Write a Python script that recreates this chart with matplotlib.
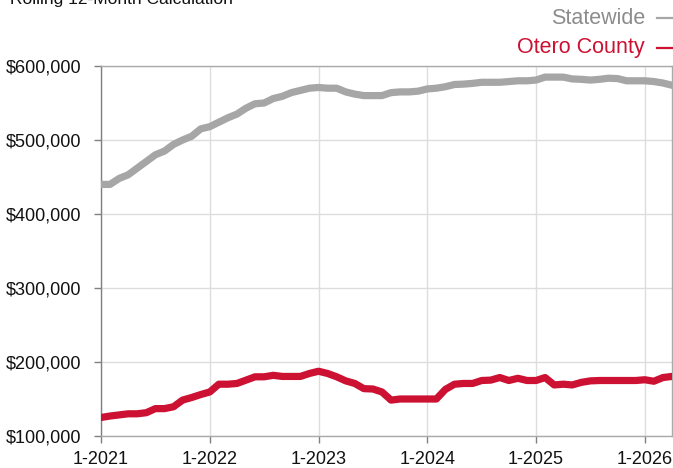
import matplotlib
matplotlib.use("Agg")
import matplotlib.pyplot as plt

plt.rcParams['font.family'] = ['Liberation Sans', 'DejaVu Sans']

months = [f"{m}-{y}" for y in range(2021, 2027) for m in range(1, 13)][:64]

statewide = [440000, 440000, 448000, 453000, 462000, 471000, 480000, 485000, 494000, 500000,
             505000, 515000, 518000, 524000, 530000, 535000, 543000, 549000, 550000, 556000,
             559000, 564000, 567000, 570000, 571000, 570000, 570000, 565000, 562000, 560000,
             560000, 560000, 564000, 565000, 565000, 566000, 569000, 570000, 572000, 575000,
             575500, 576500, 578000, 578000, 578000, 579000, 580000, 580000, 581000, 585000,
             585000, 585000, 582500, 582000, 581000, 582000, 583500, 583000, 580000, 580000,
             580000, 579000, 577000, 574000]

otero = [125000, 127000, 128500, 130000, 130000, 131500, 137000, 137000, 139500, 148500,
         152000, 156000, 159500, 170000, 170000, 171000, 175500, 180000, 180000, 182000,
         180500, 180500, 180500, 184500, 187500, 184500, 180000, 174500, 171000, 164000,
         163500, 159500, 148500, 150000, 150000, 150000, 150000, 150000, 163000, 170000,
         171000, 171000, 175000, 175500, 179000, 175000, 178000, 175000, 175000, 179000,
         169000, 170000, 169000, 172500, 174500, 175000, 175000, 175000, 175000, 175000,
         176000, 174000, 179000, 180500]

tick_labels = ["1-2021", "1-2022", "1-2023", "1-2024", "1-2025", "1-2026"]
y_ticks = [100000, 200000, 300000, 400000, 500000, 600000]

x = list(range(len(months)))
tick_pos = [months.index(t) for t in tick_labels]

fig = plt.figure(figsize=(6.73, 4.68), dpi=100)
ax = fig.add_axes([101/673, 1-436/468, 571/673, 370/468])

ax.plot(x, statewide, color='#a6a6a6', lw=5.2, solid_joinstyle='round', zorder=3)
ax.plot(x, otero, color='#cc1133', lw=5.2, solid_joinstyle='round', zorder=4)

ax.set_xlim(0, 63)
ax.set_ylim(100000, 600000)
ax.set_xticks(tick_pos)
ax.set_xticklabels(tick_labels)
ax.set_yticks(y_ticks)
ax.set_yticklabels([f"${v:,.0f}" for v in y_ticks])
ax.grid(True, color='#dddddd', lw=1)
ax.set_axisbelow(True)
for s in ['top', 'right', 'bottom']:
    ax.spines[s].set_color('#aaaaaa')
    ax.spines[s].set_linewidth(1)
ax.spines['left'].set_color('#808080')
ax.spines['left'].set_linewidth(1)
ax.tick_params(axis='both', labelsize=13, colors='#808080', labelcolor='#111111', length=5, width=1)
ax.tick_params(axis='x', pad=6)
ax.tick_params(axis='y', pad=9)

fig.text(10/673, 1 - 4/468, "Rolling 12-Month Calculation", fontsize=12.5, color='#111111',
         ha='left', va='baseline')

fig.text(645/673, 1 - 18/468, "Statewide", fontsize=15.5, color='#8c8c8c', ha='right', va='center')
fig.text(645/673, 1 - 48/468, "Otero County", fontsize=15.5, color='#cc1133', ha='right', va='center')
fig.add_artist(plt.Line2D([657/673, 673/673], [1 - 18/468] * 2, color='#a6a6a6', lw=1.6))
fig.add_artist(plt.Line2D([657/673, 673/673], [1 - 48/468] * 2, color='#cc1133', lw=1.6))

fig.savefig("out.png", dpi=100)
